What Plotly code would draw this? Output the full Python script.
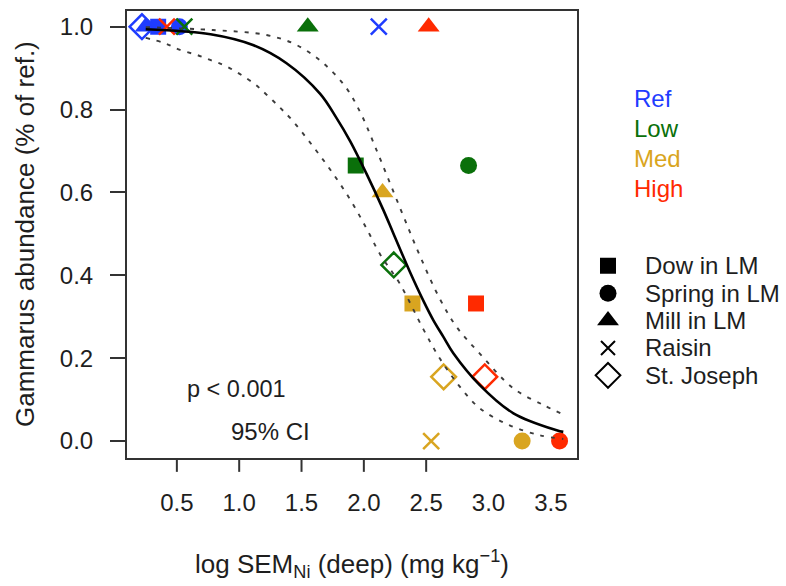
import plotly.graph_objects as go

# ---- data ----
levels = ["Ref", "Low", "Med", "High"]
level_colors = {"Ref": "#1f3cff", "Low": "#0a700a", "Med": "#d9a520", "High": "#ff2a00"}

dow_x = [0.35, 1.935, 2.39, 2.90]
dow_y = [1.0, 0.665, 0.332, 0.332]
dow_lvl = ["Ref", "Low", "Med", "High"]

spring_x = [0.52, 2.84, 3.27, 3.57]
spring_y = [1.0, 0.665, 0.0, 0.0]
spring_lvl = ["Ref", "Low", "Med", "High"]

mill_x = [0.25, 1.55, 2.15, 2.52]
mill_y = [1.0, 1.0, 0.60, 1.0]
mill_lvl = ["Ref", "Low", "Med", "High"]

raisin_x = [2.12, 0.56, 2.54, 0.42]
raisin_y = [1.0, 1.0, 0.0, 1.0]
raisin_lvl = ["Ref", "Low", "Med", "High"]

stjoe_x = [0.22, 2.24, 2.64, 2.97]
stjoe_y = [1.0, 0.425, 0.155, 0.155]
stjoe_lvl = ["Ref", "Low", "Med", "High"]

fit_x = [0.25, 0.77, 1.11, 1.38, 1.65, 1.78, 1.89, 2.02, 2.156, 2.237, 2.37, 2.477, 2.557, 2.637, 2.718, 2.93, 3.2, 3.547, 3.6]
fit_y = [0.994, 0.982, 0.956, 0.912, 0.838, 0.78, 0.724, 0.646, 0.558, 0.501, 0.408, 0.339, 0.292, 0.252, 0.212, 0.135, 0.067, 0.026, 0.022]

ciu_x = [0.25, 0.79, 1.22, 1.46, 1.675, 1.86, 1.98, 2.09, 2.29, 2.45, 2.61, 2.745, 2.93, 3.2, 3.44, 3.6]
ciu_y = [0.999, 0.992, 0.98, 0.956, 0.912, 0.852, 0.788, 0.711, 0.563, 0.447, 0.343, 0.275, 0.211, 0.127, 0.087, 0.064]

cil_x = [0.25, 0.405, 0.526, 0.66, 0.767, 0.90, 1.114, 1.22, 1.33, 1.42, 1.58, 1.74, 1.89, 2.02, 2.13, 2.29, 2.477, 2.61, 2.76, 2.93, 3.17, 3.41, 3.6]
cil_y = [0.973, 0.96, 0.944, 0.932, 0.92, 0.904, 0.864, 0.836, 0.804, 0.776, 0.716, 0.651, 0.583, 0.514, 0.451, 0.379, 0.27, 0.199, 0.135, 0.079, 0.038, 0.014, 0.005]

x_tickvals = [0.5, 1.0, 1.5, 2.0, 2.5, 3.0, 3.5]
x_tickmarks = [0.5, 1.0, 1.5, 2.0, 2.5]
y_tickvals = [0.0, 0.2, 0.4, 0.6, 0.8, 1.0]

site_names = ["Dow in LM", "Spring in LM", "Mill in LM", "Raisin", "St. Joseph"]

sites = [
    (dow_x, dow_y, dow_lvl, "square", 16, 0),
    (spring_x, spring_y, spring_lvl, "circle", 17, 0),
    (mill_x, mill_y, mill_lvl, "triangle-up", 19, 0),
    (raisin_x, raisin_y, raisin_lvl, "x-thin-open", 16, 2.5),
    (stjoe_x, stjoe_y, stjoe_lvl, "diamond-open", 19, 2.5),
]
key_sizes = [16, 17, 19, 14, 19]

FONT = "Liberation Sans, Arial, sans-serif"
TXT = "#1e1e1e"
fig = go.Figure()

for xs, ys, lv, sym, sz, lw in sites:
    cols = [level_colors[l] for l in lv]
    mk = dict(symbol=sym, size=sz, color=cols)
    mk["line"] = dict(color=cols, width=lw) if lw else dict(width=0)
    fig.add_trace(go.Scatter(x=xs, y=ys, mode="markers", marker=mk,
                             showlegend=False, hoverinfo="skip"))

# fitted curve and CI
for cx, cy in [(ciu_x, ciu_y), (cil_x, cil_y)]:
    fig.add_trace(go.Scatter(x=cx, y=cy, mode="lines", showlegend=False,
                             line=dict(color="#3c3c3c", width=1.9, dash="4px,7px", shape="spline")))
fig.add_trace(go.Scatter(x=fit_x, y=fit_y, mode="lines", showlegend=False,
                         line=dict(color="black", width=2.6, shape="spline")))

# legend keys (black symbols) on an auxiliary axis, one row per site
for i, ((xs, ys, lv, sym, sz, lw), ks) in enumerate(zip(sites, key_sizes)):
    mk = dict(symbol=sym, size=ks, color="black")
    mk["line"] = dict(color="#222222", width=2) if lw else dict(width=0)
    fig.add_trace(go.Scatter(x=[0], y=[i], mode="markers", marker=mk, xaxis="x2", yaxis="y2",
                             showlegend=False, hoverinfo="skip"))
    fig.add_annotation(text=site_names[i], xref="paper", yref="y2", x=0.795, y=i,
                       xanchor="left", yanchor="middle", showarrow=False,
                       font=dict(size=24, color=TXT, family=FONT))

PW = 786 - 127 - 10  # plotting width inside margins
main_dom = 450 / PW

shapes = []
for v in x_tickmarks:
    shapes.append(dict(type="line", xref="x", yref="paper", x0=v, x1=v, y0=0, y1=-0.031,
                       line=dict(color="#333333", width=2)))

annotations = list(fig.layout.annotations)
lvl_y = [0.805, 0.738, 0.671, 0.604]
for l, yy in zip(levels, lvl_y):
    annotations.append(dict(text=l, xref="paper", yref="paper", x=(632 - 127) / PW, y=yy,
                            xanchor="left", yanchor="middle", showarrow=False,
                            font=dict(color=level_colors[l], size=24, family=FONT)))
annotations.append(dict(text="p < 0.001", xref="x", yref="y", x=0.566, y=0.125, xanchor="left",
                        yanchor="middle", showarrow=False, font=dict(size=23.5, color=TXT, family=FONT)))
annotations.append(dict(text="95% CI", xref="x", yref="y", x=0.915, y=0.024, xanchor="left",
                        yanchor="middle", showarrow=False, font=dict(size=24, color=TXT, family=FONT)))
annotations.append(dict(text="log SEM<sub>Ni</sub> (deep) (mg kg<sup>−1</sup>)", xref="paper", yref="paper",
                        x=(352 - 127) / PW, y=-0.238, xanchor="center", yanchor="middle", showarrow=False,
                        font=dict(size=26, color=TXT, family=FONT)))
annotations.append(dict(text="Gammarus abundance (% of ref.)", xref="paper", yref="paper",
                        x=(25 - 127) / PW, y=0.501, xanchor="center", yanchor="middle", textangle=-90,
                        showarrow=False, font=dict(size=26, color=TXT, family=FONT)))

# auxiliary legend axis: row 0 at 265 px, 27.5 px per row
plot_h = 586 - 9 - 128
row0 = (458 - 265) / plot_h
step = 27.5 / plot_h
y2_range = [row0 / step, -(1 - row0) / step]
x2_dom = [main_dom + 0.01, 1.0]
x2_px0 = 127 + x2_dom[0] * PW
x2_px1 = 127 + x2_dom[1] * PW
f0 = (608 - x2_px0) / (x2_px1 - x2_px0)
x2_range = [-f0, 1 - f0]

fig.update_layout(
    width=786, height=586,
    margin=dict(l=127, r=10, t=9, b=128),
    paper_bgcolor="white", plot_bgcolor="white",
    font=dict(family=FONT, size=24, color=TXT),
    shapes=shapes, annotations=annotations, showlegend=False,
    xaxis=dict(domain=[0, main_dom], range=[0.10, 3.71], tickvals=x_tickvals,
               ticktext=[f"{v:.1f}" for v in x_tickvals],
               ticks="", showgrid=False, zeroline=False, showline=True, mirror=True,
               linecolor="#333333", linewidth=2, ticklabelstandoff=22),
    yaxis=dict(range=[-0.041, 1.038], tickvals=y_tickvals, ticktext=[f"{v:.1f}" for v in y_tickvals],
               ticks="outside", ticklen=15, tickwidth=2, tickcolor="#333333",
               showgrid=False, zeroline=False, showline=True, mirror=True,
               linecolor="#333333", linewidth=2, ticklabelstandoff=12),
    xaxis2=dict(domain=x2_dom, range=x2_range, visible=False, anchor="y2"),
    yaxis2=dict(domain=[0, 1], range=y2_range, visible=False, anchor="x2"),
)

fig.write_html("out.html")
